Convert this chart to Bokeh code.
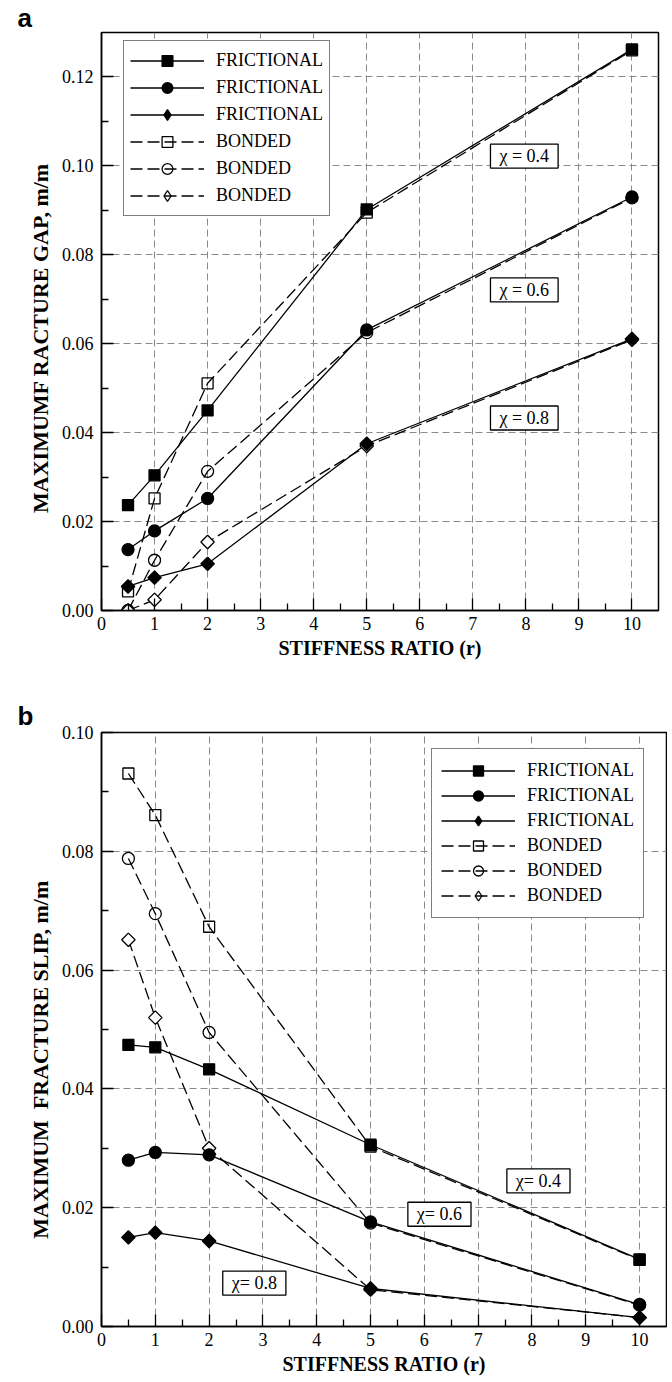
import math
from bokeh.plotting import figure
from bokeh.models import (FixedTicker, PrintfTickFormatter, Label, Legend,
                          LegendItem, Range1d)
from bokeh.layouts import column
from bokeh.embed import file_html
from bokeh.resources import INLINE

# ---------------- data ----------------
r = [0.5, 1, 2, 5, 10]

gap_fric_04 = [0.0237, 0.0304, 0.0450, 0.0902, 0.1262]
gap_fric_06 = [0.0137, 0.0179, 0.0252, 0.0631, 0.0930]
gap_fric_08 = [0.0054, 0.0074, 0.0105, 0.0375, 0.0611]
gap_bond_04 = [0.0043, 0.0252, 0.0511, 0.0895, 0.1260]
gap_bond_06 = [0.0000, 0.0113, 0.0313, 0.0625, 0.0928]
gap_bond_08 = [0.0000, 0.0024, 0.0154, 0.0370, 0.0609]

slip_fric_04 = [0.0474, 0.0470, 0.0433, 0.0306, 0.0113]
slip_fric_06 = [0.0280, 0.0293, 0.0289, 0.0176, 0.0037]
slip_fric_08 = [0.0150, 0.0158, 0.0144, 0.0064, 0.0015]
slip_bond_04 = [0.0931, 0.0861, 0.0673, 0.0303, 0.0112]
slip_bond_06 = [0.0788, 0.0695, 0.0495, 0.0174, 0.0036]
slip_bond_08 = [0.0651, 0.0520, 0.0300, 0.0062, 0.0015]

x_ticks = [0, 1, 2, 3, 4, 5, 6, 7, 8, 9, 10]
x_minor = [0.5, 1.5, 2.5, 3.5, 4.5, 5.5, 6.5, 7.5, 8.5, 9.5]
gap_ticks = [0, 0.02, 0.04, 0.06, 0.08, 0.10, 0.12]
gap_minor = [0.01, 0.03, 0.05, 0.07, 0.09, 0.11]
slip_ticks = [0, 0.02, 0.04, 0.06, 0.08, 0.10]
slip_minor = [0.01, 0.03, 0.05, 0.07, 0.09]

legend_labels = ["FRICTIONAL", "FRICTIONAL", "FRICTIONAL",
                 "BONDED", "BONDED", "BONDED"]

SERIF = "Liberation Serif"


def make_panel(letter, series, y_max, yticks, yminor, ylabel, chi_labels,
               frame_w, frame_h, b_left, b_right, b_top, b_bottom,
               leg_loc, leg_glyph_h, leg_pad, title_standoff):
    p = figure(frame_width=frame_w, frame_height=frame_h,
               min_border_left=b_left, min_border_right=b_right,
               min_border_top=b_top, min_border_bottom=b_bottom,
               x_range=Range1d(0, 10.5), y_range=Range1d(0, y_max),
               output_backend="svg", toolbar_location=None)
    p.outline_line_color = "black"
    p.outline_line_width = 1.5
    p.background_fill_color = "white"

    # panel letter
    p.title.text = letter
    p.title.align = "left"
    p.title.offset = -84
    p.title.standoff = title_standoff
    p.title.text_font = "Liberation Sans"
    p.title.text_font_style = "bold"
    p.title.text_font_size = "26px"
    p.title.text_color = "black"

    for ax in (p.xaxis[0], p.yaxis[0]):
        ax.axis_line_width = 1.5
        ax.axis_line_color = "black"
        ax.major_tick_in = 12
        ax.major_tick_out = 0
        ax.minor_tick_in = 7
        ax.minor_tick_out = 0
        ax.major_tick_line_width = 1.3
        ax.minor_tick_line_width = 1.3
        ax.major_label_text_font = SERIF
        ax.major_label_text_font_size = "18px"
        ax.major_label_text_color = "black"
        ax.axis_label_text_font = SERIF
        ax.axis_label_text_font_style = "bold"
        ax.axis_label_text_color = "black"

    p.xaxis.ticker = FixedTicker(ticks=x_ticks, minor_ticks=x_minor)
    p.yaxis.ticker = FixedTicker(ticks=yticks, minor_ticks=yminor)
    p.yaxis.formatter = PrintfTickFormatter(format="%.2f")
    p.xaxis.axis_label = "STIFFNESS RATIO (r)"
    p.xaxis.axis_label_text_font_size = "20px"
    p.yaxis.axis_label = ylabel
    p.yaxis.axis_label_text_font_size = "22px"
    p.xaxis.major_label_standoff = 6
    p.yaxis.major_label_standoff = 8
    p.xaxis.axis_label_standoff = 4
    p.yaxis.axis_label_standoff = 6

    p.grid.grid_line_color = "#8a8a8a"
    p.grid.grid_line_dash = "7 4"
    p.grid.grid_line_width = 1

    # lines
    line_rs = []
    for i, ys in enumerate(series):
        bonded = i >= 3
        lr = p.line(r, ys, line_color="black", line_width=1.3,
                    line_dash="12 5" if bonded else "solid")
        line_rs.append(lr)

    # diamond markers for the legend (hidden below the drawn diamonds)
    leg_diam = {}
    for i in (2, 5):
        bonded = i >= 3
        leg_diam[i] = p.scatter(r, series[i], marker="diamond", size=12,
                                line_color="black", line_width=1.3,
                                fill_color="black",
                                fill_alpha=0.0 if bonded else 1.0)

    markers = ["square", "circle", "square"] * 2
    sizes = [11, 12, 9.5] * 2
    angles = [0, 0, math.pi / 4] * 2
    scat_rs = [None] * 6
    for i in [5, 3, 4, 0, 1, 2]:
        bonded = i >= 3
        if bonded:
            fill, falpha = "white", (1.0 if i == 5 else 0.0)
        else:
            fill, falpha = "black", 1.0
        scat_rs[i] = p.scatter(r, series[i], marker=markers[i], size=sizes[i],
                               angle=angles[i], line_color="black",
                               line_width=1.3, fill_color=fill,
                               fill_alpha=falpha)

    items = []
    for i in range(6):
        mr = leg_diam[i] if i in leg_diam else scat_rs[i]
        items.append(LegendItem(label=legend_labels[i],
                                renderers=[line_rs[i], mr]))

    leg = Legend(items=items, location=leg_loc, orientation="vertical",
                 glyph_width=74, glyph_height=leg_glyph_h, spacing=0,
                 padding=leg_pad, margin=0, label_standoff=12,
                 label_text_font=SERIF, label_text_font_size="18px",
                 label_text_color="black", label_height=leg_glyph_h,
                 border_line_color="black", border_line_width=1.5,
                 background_fill_color="white", background_fill_alpha=1.0)
    p.add_layout(leg)

    for (lx, ly, txt) in chi_labels:
        p.add_layout(Label(x=lx, y=ly, text=txt, text_align="center",
                           text_baseline="middle", text_font=SERIF,
                           text_font_size="18px", text_color="black",
                           border_line_color="black", border_line_width=1.3,
                           background_fill_color="white",
                           padding=dict(left=9, right=9, top=2, bottom=2)))
    return p


NB = "\u00a0"

pa = make_panel(
    "a",
    [gap_fric_04, gap_fric_06, gap_fric_08, gap_bond_04, gap_bond_06, gap_bond_08],
    0.13, gap_ticks, gap_minor, "MAXIMUMF RACTURE GAP, m/m" + NB * 6,
    [(7.97, 0.1022, "\u03c7 = 0.4"), (7.97, 0.0721, "\u03c7 = 0.6"),
     (7.97, 0.0433, "\u03c7 = 0.8")],
    frame_w=557, frame_h=578, b_left=101, b_right=6, b_top=24, b_bottom=56,
    leg_loc=(22, 394), leg_glyph_h=27, leg_pad=6, title_standoff=0)

pb = make_panel(
    "b",
    [slip_fric_04, slip_fric_06, slip_fric_08, slip_bond_04, slip_bond_06, slip_bond_08],
    0.10, slip_ticks, slip_minor, "MAXIMUM" + NB + " FRACTURE SLIP, m/m" + NB * 11,
    [(8.12, 0.0245, "\u03c7= 0.4"), (6.28, 0.0189, "\u03c7= 0.6"),
     (2.84, 0.0073, "\u03c7= 0.8")],
    frame_w=565, frame_h=594, b_left=100, b_right=2, b_top=66, b_bottom=50,
    leg_loc=(330, 408), leg_glyph_h=25, leg_pad=9, title_standoff=3)

layout = column(pa, pb)
open("out.html", "w").write(file_html(layout, INLINE))
